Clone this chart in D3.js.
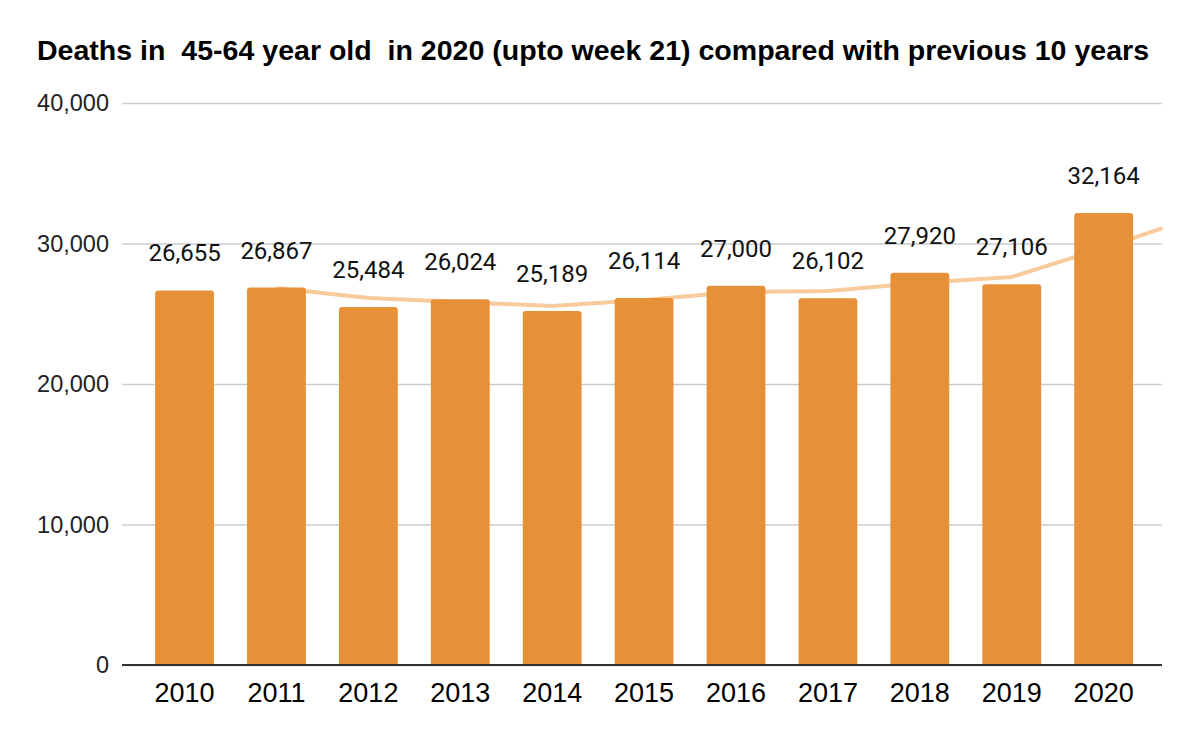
<!DOCTYPE html>
<html>
<head>
<meta charset="utf-8">
<script src="https://cdn.jsdelivr.net/npm/d3@7"></script>
<style>
  html, body { margin: 0; padding: 0; background: #fff; }
  svg { display: block; }
</style>
</head>
<body>
<div id="chart"></div>
<script>
// data
const years = ['2010', '2011', '2012', '2013', '2014', '2015', '2016', '2017', '2018', '2019', '2020'];
const deaths = [26655, 26867, 25484, 26024, 25189, 26114, 27000, 26102, 27920, 27106, 32164];
const yTicks = [0, 10000, 20000, 30000, 40000];
// trendline as drawn in the picture (starts at 2011, runs to the plot edge)
const trendYears = [2011, 2012, 2013, 2014, 2015, 2016, 2017, 2018, 2019, 2020, 2020.64];
const trendValues = [26830, 26120, 25840, 25550, 25980, 26550, 26620, 27190, 27620, 29680, 31100];

const title = 'Deaths in  45-64 year old  in 2020 (upto week 21) compared with previous 10 years';

const width = 1200,
      height = 745,
      barColor = '#e69138',
      trendColor = '#f9cb9c',
      gridLeft = 122,
      gridRight = 1162;

const svg = d3.select('#chart')
  .append('svg')
  .attr('width', width)
  .attr('height', height);

// #region scales

const x = d3.scaleBand()
  .domain(years)
  .range([138.6, 1149.6])
  .paddingInner(0.36)
  .paddingOuter(0.18);

const y = d3.scaleLinear()
  .domain([0, 40000])
  .range([665, 103]);

const xYear = d3.scaleLinear()
  .domain([2010, 2020])
  .range([x('2010') + x.bandwidth() / 2, x('2020') + x.bandwidth() / 2]);

const fmt = d3.format(',');

// #endregion

// title
svg.append('text')
  .attr('x', 37)
  .attr('y', 60)
  .style('white-space', 'pre')
  .style('font-family', '"Liberation Sans", Arial, sans-serif')
  .style('font-weight', 'bold')
  .style('font-size', '27px')
  .attr('textLength', 1112)
  .attr('lengthAdjust', 'spacingAndGlyphs')
  .attr('fill', '#000')
  .text(title);

// gridlines + y labels
const yAxis = svg.append('g')
  .attr('transform', `translate(${gridLeft},0)`)
  .call(d3.axisLeft(y)
    .tickValues(yTicks)
    .tickSize(-(gridRight - gridLeft))
    .tickPadding(13)
    .tickFormat(fmt));

yAxis.select('.domain').remove();
yAxis.selectAll('.tick line')
  .attr('stroke', '#cccccc')
  .attr('stroke-width', 1.5);
yAxis.selectAll('.tick text')
  .attr('fill', '#222')
  .style('font-family', '"Liberation Sans", Arial, sans-serif')
  .style('font-size', '23.5px');

// trendline sits behind the bars
const line = d3.line()
  .x((d, i) => xYear(trendYears[i]))
  .y(d => y(d));

svg.append('path')
  .datum(trendValues)
  .attr('d', line)
  .attr('fill', 'none')
  .attr('stroke', trendColor)
  .attr('stroke-width', 4)
  .attr('stroke-linejoin', 'round');

// bars with slightly rounded tops
function barPath(d, i) {
  let x0 = x(years[i]),
      w = x.bandwidth(),
      top = y(d),
      bottom = y(0),
      r = 3;
  return `M${x0},${bottom}V${top + r}Q${x0},${top} ${x0 + r},${top}` +
    `H${x0 + w - r}Q${x0 + w},${top} ${x0 + w},${top + r}V${bottom}Z`;
}

svg.append('g')
  .selectAll('path')
  .data(deaths)
  .enter()
  .append('path')
  .attr('d', barPath)
  .attr('fill', barColor);

// value labels
svg.append('g')
  .selectAll('text')
  .data(deaths)
  .enter()
  .append('text')
  .attr('x', (d, i) => x(years[i]) + x.bandwidth() / 2)
  .attr('y', d => y(d) - 29)
  .attr('text-anchor', 'middle')
  .attr('fill', '#111')
  .style('font-family', 'Roboto, sans-serif')
  .style('font-size', '24px')
  .text(d => fmt(d));

// baseline + x labels
const xAxis = svg.append('g')
  .attr('transform', `translate(0,${y(0)})`)
  .call(d3.axisBottom(x).tickSize(0).tickPadding(18));

xAxis.select('.domain').remove();
xAxis.selectAll('.tick text')
  .attr('fill', '#000')
  .style('font-family', '"Liberation Sans", Arial, sans-serif')
  .style('font-size', '27px');

svg.append('line')
  .attr('x1', gridLeft)
  .attr('x2', gridRight)
  .attr('y1', y(0))
  .attr('y2', y(0))
  .attr('stroke', '#333')
  .attr('stroke-width', 2);
</script>
</body>
</html>
